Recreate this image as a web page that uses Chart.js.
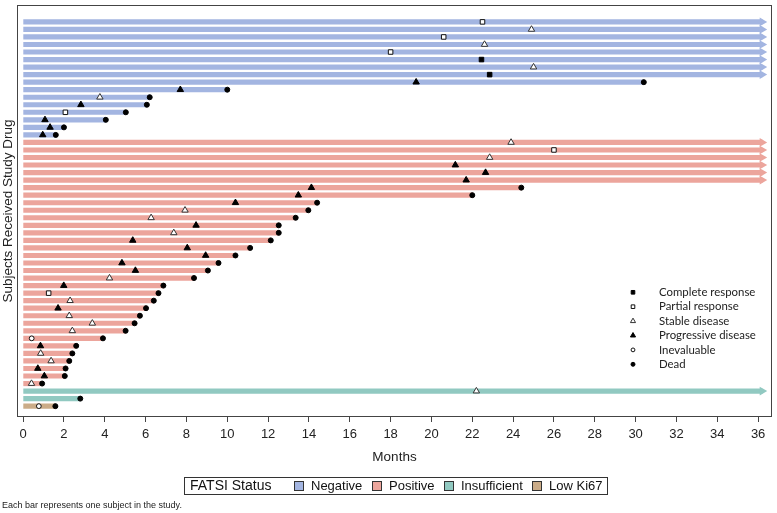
<!DOCTYPE html>
<html>
<head>
<meta charset="utf-8">
<script src="https://cdn.jsdelivr.net/npm/chart.js@4/dist/chart.umd.min.js"></script>
<style>
  html, body { margin: 0; padding: 0; background: #fff; }
</style>
</head>
<body>
<canvas id="chart" width="777" height="513"></canvas>
<script>
const statusNames = ['Negative', 'Positive', 'Insufficient', 'Low Ki67']
const statusColors = ['#a3b5e1', '#eca59c', '#91c9c1', '#cbac88']

// one entry per subject, top to bottom
const rowStatus = [
  0, 0, 0, 0, 0, 0, 0, 0, 0, 0, 0, 0, 0, 0, 0, 0,
  1, 1, 1, 1, 1, 1, 1, 1, 1, 1, 1, 1, 1, 1, 1, 1, 1, 1, 1, 1, 1, 1, 1, 1, 1, 1, 1, 1, 1, 1, 1, 1, 1,
  2, 2,
  3
]

// month of death, null = still on study (arrow)
const rowDead = [
  null, null, null, null, null, null, null, null, 30.4, 10.0, 6.2, 6.06, 5.03, 4.05, 2.0, 1.6,
  null, null, null, null, null, null, 24.4, 22.0, 14.4, 13.97, 13.35, 12.52, 12.52, 12.13, 11.12, 10.4,
  9.57, 9.05, 8.37, 6.87, 6.63, 6.4, 6.02, 5.72, 5.46, 5.02, 3.91, 2.6, 2.41, 2.26, 2.08, 2.04, 0.93,
  null, 2.8,
  1.58
]
const cutoffMonth = 36.2

const rowResponse = [
  'PR', 'SD', 'PR', 'SD', 'PR', 'CR', 'SD', 'CR', 'PD', 'PD', 'SD', 'PD', 'PR', 'PD', 'PD', 'PD',
  'SD', 'PR', 'SD', 'PD', 'PD', 'PD', 'PD', 'PD', 'PD', 'SD', 'SD', 'PD', 'SD', 'PD', 'PD', 'PD',
  'PD', 'PD', 'SD', 'PD', 'PR', 'SD', 'PD', 'SD', 'SD', 'SD', 'NE', 'PD', 'SD', 'SD', 'PD', 'PD', 'SD',
  'SD', null,
  'NE'
]
const rowResponseMonth = [
  22.5, 24.9, 20.6, 22.6, 18.0, 22.45, 25.0, 22.85, 19.25, 7.7, 3.76, 2.83, 2.07, 1.07, 1.32, 0.96,
  23.9, 26.0, 22.85, 21.17, 22.65, 21.7, 14.12, 13.48, 10.4, 7.93, 6.27, 8.47, 7.38, 5.37, 8.04, 8.94,
  4.84, 5.5, 4.23, 1.99, 1.25, 2.3, 1.71, 2.26, 3.39, 2.41, 0.42, 0.85, 0.86, 1.37, 0.72, 1.04, 0.41,
  22.2, null,
  0.77
]

const xTickValues = [0, 2, 4, 6, 8, 10, 12, 14, 16, 18, 20, 22, 24, 26, 28, 30, 32, 34, 36]

const markerTypes = [
  { code: 'CR', label: 'Complete response', style: 'rect', radius: 3.2, fill: '#000', line: '#000' },
  { code: 'PR', label: 'Partial response', style: 'rect', radius: 3.2, fill: '#fff', line: '#111' },
  { code: 'SD', label: 'Stable disease', style: 'triangle', radius: 3.7, fill: '#fff', line: '#333' },
  { code: 'PD', label: 'Progressive disease', style: 'triangle', radius: 3.7, fill: '#000', line: '#000' },
  { code: 'NE', label: 'Inevaluable', style: 'circle', radius: 2.4, fill: '#fff', line: '#111' },
  { code: 'DEAD', label: 'Dead', style: 'circle', radius: 2.5, fill: '#000', line: '#000' }
]

const rowEnd = rowDead.map(d => d === null ? cutoffMonth : d)
const rowColor = rowStatus.map(s => statusColors[s])

const markerDatasets = markerTypes.map(m => {
  const pts = []
  rowResponse.forEach((r, i) => {
    if (m.code === 'DEAD' && rowDead[i] !== null) pts.push({ x: rowDead[i], y: i })
    if (r === m.code) pts.push({ x: rowResponseMonth[i], y: i })
  })
  return {
    type: 'scatter',
    label: m.label,
    data: pts,
    pointStyle: m.style,
    pointRadius: m.radius,
    pointBackgroundColor: m.fill,
    pointBorderColor: m.line,
    pointBorderWidth: 1,
    order: 1
  }
})

const arrowRows = rowDead.map((d, i) => d === null ? i : -1).filter(i => i >= 0)

const framePlugin = {
  id: 'frame',
  afterDraw (chart) {
    const { ctx, chartArea: a } = chart
    ctx.save()
    ctx.strokeStyle = '#444'
    ctx.lineWidth = 1
    ctx.strokeRect(a.left + 0.5, a.top + 0.5, a.right - a.left - 1, a.bottom - a.top - 1)

    // response legend inside the plot
    ctx.font = '11.4px Lato'
    ctx.textBaseline = 'middle'
    markerTypes.forEach((m, k) => {
      const y = 292.3 + k * 14.4
      ctx.fillStyle = m.fill
      ctx.strokeStyle = m.line
      Chart.helpers.drawPoint(ctx, { pointStyle: m.style, radius: m.radius * 0.8, borderWidth: 1, rotation: 0 }, 633, y)
      ctx.fillStyle = '#222'
      ctx.fillText(m.label, 659, y)
    })

    // FATSI status legend
    ctx.strokeStyle = '#333'
    ctx.strokeRect(184.5, 477.5, 423, 17)
    ctx.fillStyle = '#111'
    ctx.font = '14px "Liberation Sans", Arial'
    ctx.fillText('FATSI Status', 190, 486.5)
    const swX = [294, 372, 444, 532]
    ctx.font = '13px "Liberation Sans", Arial'
    statusNames.forEach((n, k) => {
      ctx.fillStyle = statusColors[k]
      ctx.fillRect(swX[k] + 0.5, 481.5, 9, 9)
      ctx.strokeStyle = '#333'
      ctx.strokeRect(swX[k] + 0.5, 481.5, 9, 9)
      ctx.fillStyle = '#111'
      ctx.fillText(n, swX[k] + 17, 486.5)
    })

    ctx.font = '9px "Liberation Sans", Arial'
    ctx.fillStyle = '#222'
    ctx.fillText('Each bar represents one subject in the study.', 2, 506)
    ctx.restore()
  }
}

new Chart(document.getElementById('chart'), {
  type: 'bar',
  data: {
    datasets: [
      ...markerDatasets,
      {
        type: 'scatter',
        label: 'arrows',
        data: arrowRows.map(i => ({ x: rowEnd[i], y: i })),
        pointStyle: 'triangle',
        pointRotation: 90,
        pointRadius: 5,
        pointBackgroundColor: arrowRows.map(i => rowColor[i]),
        pointBorderWidth: 0,
        order: 2
      },
      {
        type: 'bar',
        label: 'subjects',
        data: rowEnd.map((e, i) => ({ x: [0, e], y: i })),
        backgroundColor: rowColor,
        barThickness: 4.5,
        borderWidth: 0,
        order: 3
      }
    ]
  },
  options: {
    indexAxis: 'y',
    responsive: false,
    animation: false,
    devicePixelRatio: 1,
    layout: { padding: { top: -3, right: 4, bottom: 48, left: 0 } },
    plugins: { legend: { display: false }, tooltip: { enabled: false } },
    scales: {
      x: {
        type: 'linear',
        position: 'bottom',
        offset: false,
        min: -0.3,
        max: 36.68,
        afterBuildTicks: s => { s.ticks = xTickValues.map(v => ({ value: v })) },
        afterFit: s => { s.height = 48 },
        grid: { drawOnChartArea: false, drawTicks: true, tickLength: 5, color: '#444' },
        border: { display: false },
        ticks: { padding: 5, color: '#222', font: { size: 13, family: '"Liberation Sans", Arial' }, maxRotation: 0, autoSkip: false },
        title: { display: true, text: 'Months', color: '#222', padding: 0, font: { size: 13.5, family: '"Liberation Sans", Arial' } }
      },
      y: {
        type: 'linear',
        reverse: true,
        offset: false,
        min: -2.24,
        max: 52.44,
        afterFit: s => { s.width = 17 },
        grid: { display: false, offset: false },
        border: { display: false },
        ticks: { display: false },
        title: { display: true, text: 'Subjects Received Study Drug', color: '#222', padding: 0, font: { size: 13.5, family: '"Liberation Sans", Arial' } }
      }
    }
  },
  plugins: [framePlugin]
})
</script>
</body>
</html>
